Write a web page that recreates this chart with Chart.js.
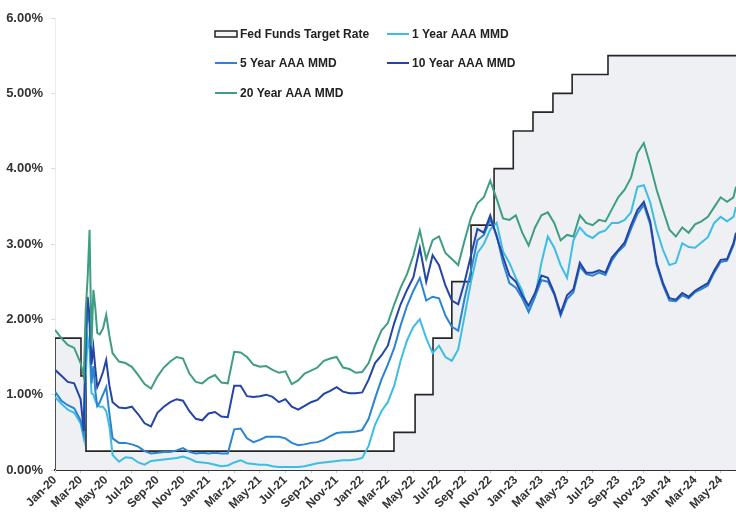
<!DOCTYPE html>
<html>
<head>
<meta charset="utf-8">
<script src="https://cdn.jsdelivr.net/npm/chart.js@4.4.1/dist/chart.umd.min.js"></script>
<style>
  body { margin: 0; background: #fff; }
  #wrap { width: 736px; height: 520px; position: relative; }
</style>
</head>
<body>
<div id="wrap"><canvas id="rates"></canvas></div>
<script>
// x positions in months after Jan-20
const months = [0, 0.5, 1, 1.5, 2, 2.25, 2.4, 2.55, 2.7, 2.85, 3, 3.15, 3.3, 3.5, 3.75, 4, 4.25, 4.5,
  5, 5.5, 6, 6.5, 7, 7.5, 8, 8.5, 9, 9.5, 10, 10.5, 11, 11.5, 12, 12.5, 13, 13.5,
  14, 14.5, 15, 15.5, 16, 16.5, 17, 17.5, 18, 18.5, 19, 19.5, 20, 20.5, 21, 21.5, 22, 22.5, 23, 23.5,
  24, 24.5, 25, 25.5, 26, 26.5, 27, 27.5, 28, 28.5, 29, 29.5, 30, 30.5, 31, 31.5, 32, 32.5, 33, 33.5,
  34, 34.5, 35, 35.5, 36, 36.5, 37, 37.5, 38, 38.5, 39, 39.5, 40, 40.5, 41, 41.5, 42, 42.5, 43, 43.5,
  44, 44.5, 45, 45.5, 46, 46.5, 47, 47.5, 48, 48.5, 49, 49.5, 50, 50.5, 51, 51.5, 52, 52.5, 53, 53.2];

const yr20 = [1.86, 1.75, 1.66, 1.62, 1.42, 1.24, 2.12, 2.55, 3.19, 1.65, 2.39, 2.15, 1.82, 1.80, 1.88, 2.06, 1.78, 1.55,
  1.44, 1.42, 1.37, 1.26, 1.14, 1.08, 1.24, 1.36, 1.44, 1.50, 1.48, 1.28, 1.17, 1.15, 1.22, 1.26, 1.16, 1.15,
  1.57, 1.56, 1.50, 1.40, 1.37, 1.38, 1.33, 1.29, 1.31, 1.14, 1.19, 1.28, 1.32, 1.36, 1.45, 1.48, 1.50, 1.36, 1.34, 1.29,
  1.30, 1.42, 1.65, 1.85, 1.95, 2.20, 2.42, 2.60, 2.85, 3.18, 2.80, 3.05, 3.10, 2.88, 2.80, 2.72, 3.05, 3.35, 3.54, 3.62,
  3.84, 3.60, 3.34, 3.32, 3.38, 3.15, 2.98, 3.22, 3.38, 3.42, 3.28, 3.05, 3.12, 3.10, 3.38, 3.28, 3.25, 3.32, 3.30, 3.46,
  3.62, 3.72, 3.88, 4.21, 4.34, 4.05, 3.72, 3.45, 3.19, 3.10, 3.22, 3.15, 3.26, 3.30, 3.36, 3.49, 3.62, 3.56, 3.62, 3.76];

const yr10 = [1.33, 1.25, 1.17, 1.15, 0.94, 0.52, 1.85, 2.30, 2.05, 1.40, 1.63, 1.35, 1.10, 1.18, 1.30, 1.46, 1.12, 0.90,
  0.83, 0.82, 0.84, 0.74, 0.62, 0.58, 0.76, 0.84, 0.90, 0.94, 0.92, 0.78, 0.68, 0.66, 0.75, 0.77, 0.71, 0.70,
  1.12, 1.12, 0.98, 0.97, 0.98, 1.00, 0.97, 0.90, 0.94, 0.84, 0.80, 0.85, 0.90, 0.93, 1.01, 1.05, 1.10, 1.04, 1.02, 1.02,
  1.03, 1.20, 1.42, 1.52, 1.65, 1.95, 2.20, 2.39, 2.56, 2.95, 2.50, 2.85, 2.72, 2.45, 2.25, 2.20, 2.50, 2.85, 3.20, 3.15,
  3.38, 3.10, 2.83, 2.58, 2.50, 2.32, 2.18, 2.35, 2.58, 2.55, 2.35, 2.08, 2.32, 2.40, 2.75, 2.62, 2.62, 2.65, 2.62, 2.82,
  2.92, 3.02, 3.25, 3.45, 3.56, 3.30, 2.75, 2.48, 2.28, 2.26, 2.35, 2.30, 2.38, 2.43, 2.48, 2.65, 2.79, 2.80, 3.01, 3.15];

const yr5 = [1.04, 0.92, 0.86, 0.82, 0.66, 0.48, 1.55, 2.15, 1.95, 1.15, 1.38, 1.05, 0.85, 0.90, 1.00, 1.10, 0.75, 0.42,
  0.36, 0.36, 0.34, 0.31, 0.25, 0.22, 0.23, 0.24, 0.24, 0.26, 0.29, 0.24, 0.22, 0.23, 0.22, 0.23, 0.22, 0.22,
  0.54, 0.55, 0.42, 0.37, 0.40, 0.44, 0.44, 0.44, 0.42, 0.36, 0.33, 0.34, 0.36, 0.37, 0.40, 0.45, 0.49, 0.50, 0.50, 0.51,
  0.53, 0.68, 0.95, 1.20, 1.40, 1.62, 1.92, 2.18, 2.38, 2.55, 2.25, 2.30, 2.28, 2.05, 1.90, 1.85, 2.28, 2.65, 3.05, 3.12,
  3.32, 3.12, 2.75, 2.48, 2.42, 2.28, 2.10, 2.30, 2.52, 2.50, 2.33, 2.05, 2.27, 2.36, 2.70, 2.60, 2.58, 2.62, 2.59, 2.78,
  2.90, 2.98, 3.20, 3.40, 3.52, 3.26, 2.72, 2.45, 2.25, 2.24, 2.32, 2.28, 2.36, 2.40, 2.45, 2.62, 2.76, 2.78, 2.98, 3.12];

const yr1 = [0.97, 0.88, 0.80, 0.76, 0.62, 0.42, 1.25, 1.75, 1.60, 1.02, 1.00, 0.92, 0.86, 0.84, 0.84, 0.78, 0.58, 0.20,
  0.11, 0.17, 0.16, 0.10, 0.07, 0.12, 0.13, 0.14, 0.15, 0.16, 0.18, 0.15, 0.11, 0.10, 0.09, 0.07, 0.05, 0.06,
  0.10, 0.13, 0.09, 0.08, 0.07, 0.07, 0.05, 0.04, 0.04, 0.04, 0.04, 0.05, 0.07, 0.09, 0.10, 0.11, 0.12, 0.13, 0.13, 0.14,
  0.16, 0.32, 0.60, 0.78, 0.90, 1.12, 1.45, 1.72, 1.90, 2.00, 1.75, 1.55, 1.65, 1.50, 1.45, 1.60, 2.05, 2.50, 2.88, 3.00,
  3.19, 3.28, 2.90, 2.75, 2.55, 2.38, 2.10, 2.30, 2.75, 3.10, 2.95, 2.72, 2.55, 3.05, 3.22, 3.12, 3.08, 3.15, 3.18, 3.28,
  3.28, 3.32, 3.42, 3.76, 3.78, 3.55, 3.19, 2.92, 2.72, 2.75, 3.01, 2.96, 2.95, 3.02, 3.09, 3.28, 3.36, 3.30, 3.36, 3.49];

// fed funds target (upper bound), months where the rate changes
const fedMonths = [0, 0, 2.03, 2.42, 26.48, 28.13, 29.53, 31.0, 32.5, 34.3, 35.8, 37.34, 38.9, 40.4, 43.2, 53.2];
const fedRates = [0, 1.75, 1.25, 0.25, 0.50, 1.00, 1.75, 2.50, 3.25, 4.00, 4.50, 4.75, 5.00, 5.25, 5.50, 5.50];

const tickLabels = ['Jan-20', 'Mar-20', 'May-20', 'Jul-20', 'Sep-20', 'Nov-20',
  'Jan-21', 'Mar-21', 'May-21', 'Jul-21', 'Sep-21', 'Nov-21',
  'Jan-22', 'Mar-22', 'May-22', 'Jul-22', 'Sep-22', 'Nov-22',
  'Jan-23', 'Mar-23', 'May-23', 'Jul-23', 'Sep-23', 'Nov-23',
  'Jan-24', 'Mar-24', 'May-24'];

const FONT = '"Liberation Sans", Arial, sans-serif';

function pts(xs, ys) {
    return xs.map((x, i) => ({ x: x, y: ys[i] }));
}

const legendItems = [
    { text: 'Fed Funds Target Rate', color: '#222', box: true, x: 215, y: 34 },
    { text: '1 Year AAA MMD', color: '#3dbde6', x: 387, y: 34 },
    { text: '5 Year AAA MMD', color: '#2a84d2', x: 215, y: 63 },
    { text: '10 Year AAA MMD', color: '#2444a6', x: 387, y: 63 },
    { text: '20 Year AAA MMD', color: '#3f9e82', x: 215, y: 93 }
];

// legend sits inside the plot in a 2 column grid
const gridLegend = {
    id: 'gridLegend',
    afterDraw(chart) {
        const ctx = chart.ctx;
        ctx.save();
        ctx.font = 'bold 12px ' + FONT;
        ctx.textBaseline = 'middle';
        legendItems.forEach(item => {
            if (item.box) {
                ctx.fillStyle = '#f4f5f8';
                ctx.fillRect(item.x, item.y - 3, 22, 6);
                ctx.strokeStyle = '#222';
                ctx.lineWidth = 1.5;
                ctx.strokeRect(item.x, item.y - 3, 22, 6);
            } else {
                ctx.strokeStyle = item.color;
                ctx.lineWidth = 2;
                ctx.beginPath();
                ctx.moveTo(item.x, item.y);
                ctx.lineTo(item.x + 22, item.y);
                ctx.stroke();
            }
            ctx.fillStyle = '#222';
            ctx.fillText(item.text, item.x + 25, item.y + 0.5);
        });
        ctx.restore();
    }
};

const lineStyle = { borderWidth: 2, pointRadius: 0, tension: 0, fill: false };

const ctx = document.getElementById('rates').getContext('2d');
const ratesChart = new Chart(ctx, {
    type: 'line',
    data: {
        datasets: [
            {
                label: 'Fed Funds Target Rate',
                data: pts(fedMonths, fedRates),
                stepped: true,
                borderColor: '#262626',
                borderWidth: 1.6,
                backgroundColor: '#eef0f4',
                fill: 'origin',
                pointRadius: 0,
                order: 5
            },
            Object.assign({ label: '1 Year AAA MMD', data: pts(months, yr1), borderColor: '#3dbde6', order: 4 }, lineStyle),
            Object.assign({ label: '5 Year AAA MMD', data: pts(months, yr5), borderColor: '#2a84d2', order: 3 }, lineStyle),
            Object.assign({ label: '10 Year AAA MMD', data: pts(months, yr10), borderColor: '#2444a6', order: 2 }, lineStyle),
            Object.assign({ label: '20 Year AAA MMD', data: pts(months, yr20), borderColor: '#3f9e82', order: 1 }, lineStyle)
        ]
    },
    options: {
        responsive: true,
        maintainAspectRatio: false,
        animation: false,
        layout: { padding: { top: 18, right: 0, left: 0, bottom: 0 } },
        plugins: {
            legend: { display: false },
            tooltip: { enabled: false }
        },
        scales: {
            x: {
                type: 'linear',
                min: 0,
                max: 53.2,
                // one tick every two months, Jan-20 .. May-24
                afterBuildTicks: scale => {
                    scale.ticks = tickLabels.map((label, i) => ({ value: i * 2 }));
                },
                afterFit: scale => { scale.height = 50; },
                ticks: {
                    includeBounds: false,
                    autoSkip: false,
                    maxRotation: 45,
                    minRotation: 45,
                    padding: 0,
                    color: '#333',
                    font: { family: FONT, size: 12, weight: 'bold' },
                    callback: value => tickLabels[Math.round(value / 2)]
                },
                grid: { display: true, drawOnChartArea: false, tickLength: 3, color: '#c8c8c8' },
                border: { display: true, color: '#333', width: 2 }
            },
            y: {
                min: 0,
                max: 6,
                afterFit: scale => { scale.width = 55; },
                ticks: {
                    stepSize: 1,
                    padding: 8,
                    color: '#333',
                    font: { family: FONT, size: 13, weight: 'bold' },
                    callback: value => value.toFixed(2) + '%'
                },
                grid: { display: true, drawOnChartArea: false, tickLength: 4, color: '#dcdcdc' },
                border: { display: true, color: '#ececec', width: 1 }
            }
        }
    },
    plugins: [gridLegend]
});
</script>
</body>
</html>
